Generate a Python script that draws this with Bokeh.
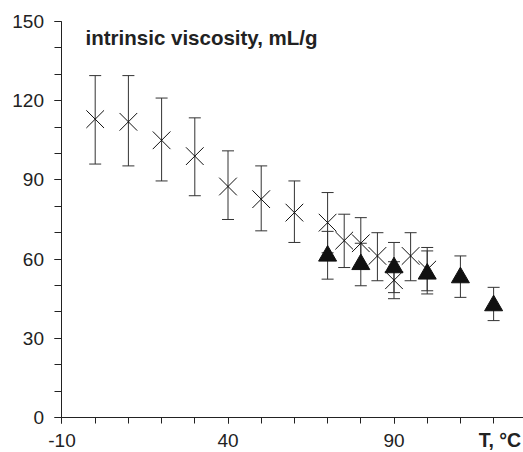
from bokeh.plotting import figure
from bokeh.models import Range1d, FixedTicker, Whisker, TeeHead, ColumnDataSource, Label
from bokeh.embed import file_html
from bokeh.resources import INLINE

# Series 1: crosses (T, value, lower, upper)
t_x = [0, 10, 20, 30, 40, 50, 60, 70, 75, 80, 85, 90, 95, 100]
v_x = [113, 112, 105, 99, 87.5, 82.7, 77.6, 73.8, 67, 66, 61.2, 52, 61.2, 56]
lo_x = [96, 95.3, 89.6, 84, 75, 70.7, 66.3, 62.4, 56.8, 56.3, 51.8, 45, 51.8, 48]
hi_x = [129.5, 129.5, 121, 113.5, 101, 95.3, 89.6, 85.2, 77, 75.7, 70, 59, 70, 64.4]

# Series 2: triangles
t_t = [70, 80, 90, 100, 110, 120]
v_t = [61.2, 58, 56.8, 54.4, 53, 42.4]
lo_t = [52.4, 49.9, 47.3, 46.8, 45.5, 36.7]
hi_t = [70.5, 66, 66.3, 63.1, 61.2, 49.3]

x_ticks = [-10, 40, 90]
x_tick_labels = {-10: "-10", 40: "40", 90: "90"}
x_minor = [-10, 0, 10, 20, 30, 40, 50, 60, 70, 80, 90, 100, 110, 120]
y_ticks = [0, 30, 60, 90, 120, 150]
y_minor = [0, 10, 20, 30, 40, 50, 60, 70, 80, 90, 100, 110, 120, 130, 140, 150]

FONT = "Liberation Sans"

p = figure(width=523, height=452, output_backend="svg", toolbar_location=None,
           x_range=Range1d(-28.52, 129.0), y_range=Range1d(-13.26, 157.95),
           min_border_left=0, min_border_right=0, min_border_top=0, min_border_bottom=0)
p.outline_line_color = None
p.xgrid.grid_line_color = None
p.ygrid.grid_line_color = None
p.background_fill_color = "white"
p.border_fill_color = "white"

for ax in (p.xaxis[0], p.yaxis[0]):
    ax.axis_line_color = "#222222"
    ax.axis_line_width = 1
    ax.major_tick_line_color = "#222222"
    ax.minor_tick_line_color = "#222222"
    ax.major_tick_in = 0
    ax.minor_tick_in = 0
    ax.major_label_text_font = FONT
    ax.major_label_text_font_size = "19px"
    ax.major_label_text_color = "#222222"

p.xaxis[0].ticker = FixedTicker(ticks=x_ticks, minor_ticks=x_minor)
p.xaxis[0].major_label_overrides = x_tick_labels
p.yaxis[0].ticker = FixedTicker(ticks=y_ticks, minor_ticks=y_minor)
p.xaxis[0].fixed_location = 0
p.yaxis[0].fixed_location = -10
p.xaxis[0].bounds = (-10, 135)
p.yaxis[0].bounds = (0, 150)
p.xaxis[0].major_tick_out = 6
p.xaxis[0].minor_tick_out = 6
p.yaxis[0].major_tick_out = 7
p.yaxis[0].minor_tick_out = 7
p.xaxis[0].major_label_standoff = 11
p.yaxis[0].major_label_standoff = 11

src_x = ColumnDataSource(dict(t=t_x, v=v_x, lo=lo_x, hi=hi_x))
src_t = ColumnDataSource(dict(t=t_t, v=v_t, lo=lo_t, hi=hi_t))

for src in (src_x, src_t):
    w = Whisker(source=src, base="t", lower="lo", upper="hi",
                line_color="#333333", line_width=1,
                upper_head=TeeHead(size=12, line_color="#333333", line_width=1),
                lower_head=TeeHead(size=12, line_color="#333333", line_width=1))
    p.add_layout(w)

p.scatter("t", "v", source=src_x, marker="x", size=25, line_color="#111111", line_width=1)
p.scatter("t", "v", source=src_t, marker="triangle", size=18, fill_color="#111111",
          line_color="#111111")

p.add_layout(Label(x=-2.9, y=144, text="intrinsic viscosity, mL/g", text_font=FONT,
                   text_font_size="20.5px", text_font_style="bold", text_color="#222222",
                   text_baseline="alphabetic"))
p.add_layout(Label(x=128.3, y=-8.4, text="T, °C", text_font=FONT,
                   text_font_size="19.5px", text_font_style="bold", text_color="#222222",
                   text_align="right", text_baseline="middle"))

open("out.html", "w").write(file_html(p, INLINE))
